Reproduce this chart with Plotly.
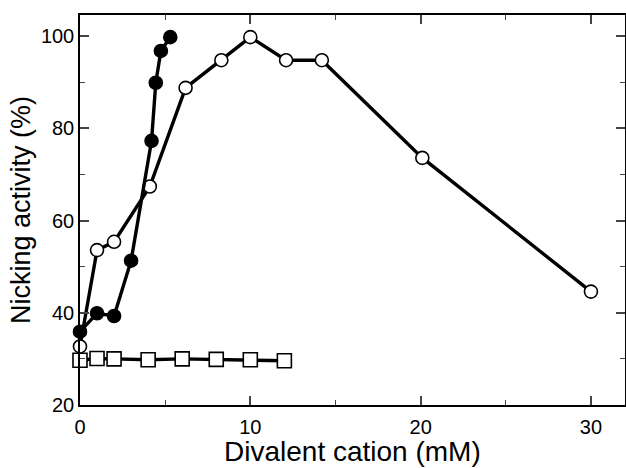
import plotly.graph_objects as go

# Open circles
open_x = [0, 1, 2, 4.1, 6.2, 8.3, 10, 12.1, 14.2, 20.1, 30]
open_y = [32.7, 53.6, 55.4, 67.4, 88.8, 94.8, 99.8, 94.8, 94.8, 73.6, 44.6]

# Filled circles
filled_x = [0, 1, 2, 3, 4.2, 4.45, 4.75, 5.3]
filled_y = [35.9, 39.9, 39.3, 51.3, 77.3, 89.9, 96.8, 99.8]

# Open squares
square_x = [0, 1, 2, 4, 6, 8, 10, 12]
square_y = [29.7, 30.1, 30.0, 29.8, 30.0, 29.9, 29.8, 29.6]

x_ticks = [0, 10, 20, 30]
y_ticks = [20, 40, 60, 80, 100]
x_title = "Divalent cation (mM)"
y_title = "Nicking activity (%)"

line = dict(color="black", width=3.4)

fig = go.Figure()
fig.add_trace(go.Scatter(x=square_x, y=square_y, mode="lines+markers", line=line,
                         marker=dict(symbol="square", size=14, color="white",
                                     line=dict(color="black", width=1.6)),
                         cliponaxis=False))
fig.add_trace(go.Scatter(x=open_x, y=open_y, mode="lines+markers", line=line,
                         marker=dict(symbol="circle", size=13, color="white",
                                     line=dict(color="black", width=1.6)),
                         cliponaxis=False))
fig.add_trace(go.Scatter(x=filled_x, y=filled_y, mode="lines+markers", line=line,
                         marker=dict(symbol="circle", size=13, color="black",
                                     line=dict(color="black", width=1.6)),
                         cliponaxis=False))

font = "Liberation Sans, Arial, sans-serif"
fig.update_layout(
    width=626, height=468,
    margin=dict(l=80, r=1, t=15, b=63),
    paper_bgcolor="white", plot_bgcolor="white",
    showlegend=False,
    font=dict(family=font, color="black", size=20),
)
fig.add_annotation(text=x_title, xref="paper", yref="paper", x=0.5, y=-0.1205,
                   xanchor="center", yanchor="middle", showarrow=False,
                   font=dict(size=28))
fig.update_xaxes(range=[0, 32], tickvals=x_ticks, ticks="inside", ticklen=9, tickwidth=1.5,
                 showline=True, linecolor="black", linewidth=1.5, mirror="ticks",
                 showgrid=False, zeroline=False, automargin=False,
                 minor=dict(tickvals=[5, 15, 25], ticks="inside", ticklen=5, tickwidth=1),
                 tickfont=dict(size=20), ticklabelstandoff=3)
fig.update_yaxes(range=[20, 104.6], tickvals=y_ticks, ticks="inside", ticklen=9, tickwidth=1.5,
                 showline=True, linecolor="black", linewidth=1.5, mirror="ticks",
                 showgrid=False, zeroline=False, automargin=False,
                 minor=dict(tickvals=[30, 50, 70, 90], ticks="inside", ticklen=5, tickwidth=1),
                 tickfont=dict(size=20),
                 title=dict(text=y_title, font=dict(size=27), standoff=2))

fig.write_html("out.html", config={"displayModeBar": False},
               post_script="document.body.style.margin='0';")
